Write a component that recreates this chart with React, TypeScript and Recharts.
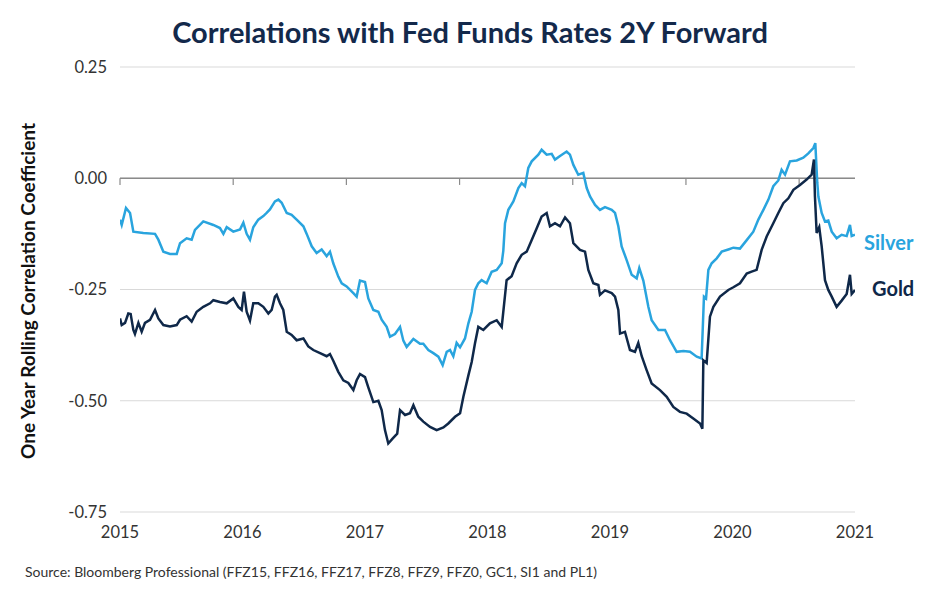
import React from "react";
import {
  LineChart,
  Line,
  XAxis,
  YAxis,
  CartesianGrid,
  ReferenceLine,
  LabelList,
} from "recharts";

const title = "Correlations with Fed Funds Rates 2Y Forward";
const yAxisLabel = "One Year Rolling Correlation Coefficient";
const sourceNote =
  "Source: Bloomberg Professional (FFZ15, FFZ16, FFZ17, FFZ8, FFZ9, FFZ0, GC1, SI1 and PL1)";

const yearTicks = [2015, 2016, 2017, 2018, 2019, 2020, 2021];
const valueTicks = [0.25, 0, -0.25, -0.5, -0.75];
const zeroAxisTicks = [2015, 2015.924, 2016.848, 2017.772, 2018.696, 2019.62, 2020.544];

const silverDates = [
  2015.0, 2015.014, 2015.049, 2015.082, 2015.109, 2015.19, 2015.286, 2015.313, 2015.354, 2015.408,
  2015.463, 2015.49, 2015.544, 2015.585, 2015.612, 2015.68, 2015.762, 2015.816, 2015.844, 2015.871,
  2015.925, 2015.98, 2016.007, 2016.034, 2016.061, 2016.088, 2016.129, 2016.17, 2016.197, 2016.224,
  2016.265, 2016.293, 2016.32, 2016.361, 2016.401, 2016.442, 2016.497, 2016.524, 2016.565, 2016.605,
  2016.646, 2016.687, 2016.714, 2016.741, 2016.782, 2016.81, 2016.85, 2016.905, 2016.932, 2016.959,
  2017.0, 2017.027, 2017.068, 2017.109, 2017.136, 2017.177, 2017.204, 2017.245, 2017.286, 2017.313,
  2017.34, 2017.395, 2017.449, 2017.476, 2017.517, 2017.558, 2017.599, 2017.634, 2017.667, 2017.694,
  2017.721, 2017.748, 2017.776, 2017.816, 2017.844, 2017.871, 2017.898, 2017.925, 2017.952, 2017.993,
  2018.034, 2018.075, 2018.116, 2018.129, 2018.143, 2018.17, 2018.211, 2018.252, 2018.279, 2018.306,
  2018.333, 2018.361, 2018.415, 2018.442, 2018.483, 2018.524, 2018.551, 2018.592, 2018.646, 2018.673,
  2018.701, 2018.741, 2018.782, 2018.81, 2018.837, 2018.878, 2018.918, 2018.959, 2019.014, 2019.041,
  2019.068, 2019.095, 2019.136, 2019.177, 2019.218, 2019.239, 2019.272, 2019.313, 2019.34, 2019.395,
  2019.449, 2019.49, 2019.544, 2019.599, 2019.653, 2019.708, 2019.748, 2019.767, 2019.784, 2019.803,
  2019.83, 2019.871, 2019.912, 2019.966, 2020.007, 2020.061, 2020.116, 2020.17, 2020.211, 2020.252,
  2020.293, 2020.333, 2020.374, 2020.401, 2020.429, 2020.469, 2020.524, 2020.578, 2020.619, 2020.66,
  2020.676, 2020.692, 2020.701, 2020.728, 2020.755, 2020.782, 2020.81, 2020.85, 2020.891, 2020.932,
  2020.959, 2020.973, 2021.0,
];
const silverValues = [
  -0.093, -0.105, -0.067, -0.078, -0.12, -0.123, -0.125, -0.138, -0.165, -0.17,
  -0.17, -0.146, -0.135, -0.138, -0.116, -0.097, -0.105, -0.112, -0.125, -0.11,
  -0.12, -0.115, -0.1, -0.125, -0.138, -0.11, -0.093, -0.085, -0.078, -0.07,
  -0.052, -0.048, -0.055, -0.078, -0.082, -0.093, -0.108, -0.125, -0.153, -0.168,
  -0.16, -0.175, -0.165, -0.191, -0.221, -0.236, -0.243, -0.258, -0.266, -0.23,
  -0.233, -0.27, -0.296, -0.3, -0.318, -0.334, -0.356, -0.35, -0.334, -0.365,
  -0.379, -0.361, -0.372, -0.372, -0.386, -0.393, -0.401, -0.42, -0.39, -0.386,
  -0.4, -0.37, -0.38, -0.36, -0.326, -0.3, -0.251, -0.236, -0.229, -0.236,
  -0.21, -0.206, -0.191, -0.163, -0.101, -0.071, -0.052, -0.022, -0.011, -0.018,
  0.023, 0.038, 0.053, 0.064, 0.053, 0.055, 0.042, 0.05, 0.06, 0.053,
  0.03, 0.008, 0.012, -0.022, -0.041, -0.06, -0.071, -0.065, -0.071, -0.078,
  -0.108, -0.153, -0.184, -0.217, -0.225, -0.202, -0.23, -0.289, -0.319, -0.341,
  -0.341, -0.364, -0.39, -0.388, -0.39, -0.401, -0.405, -0.266, -0.27, -0.206,
  -0.191, -0.18, -0.165, -0.16, -0.156, -0.158, -0.139, -0.12, -0.093, -0.071,
  -0.048, -0.018, -0.005, 0.019, 0.008, 0.038, 0.04, 0.046, 0.056, 0.068,
  0.079, -0.01, -0.041, -0.078, -0.097, -0.095, -0.12, -0.135, -0.127, -0.13,
  -0.105, -0.13, -0.127,
];

const goldDates = [
  2015.0, 2015.014, 2015.041, 2015.068, 2015.087, 2015.109, 2015.122, 2015.15, 2015.177, 2015.204,
  2015.245, 2015.286, 2015.313, 2015.354, 2015.408, 2015.463, 2015.49, 2015.544, 2015.585, 2015.626,
  2015.68, 2015.735, 2015.762, 2015.816, 2015.871, 2015.925, 2015.966, 2015.993, 2016.012, 2016.034,
  2016.061, 2016.088, 2016.129, 2016.17, 2016.211, 2016.238, 2016.265, 2016.279, 2016.306, 2016.333,
  2016.361, 2016.401, 2016.442, 2016.497, 2016.537, 2016.578, 2016.633, 2016.687, 2016.714, 2016.741,
  2016.782, 2016.823, 2016.864, 2016.905, 2016.932, 2016.959, 2017.0, 2017.027, 2017.068, 2017.109,
  2017.136, 2017.163, 2017.19, 2017.225, 2017.263, 2017.286, 2017.327, 2017.367, 2017.395, 2017.435,
  2017.476, 2017.531, 2017.585, 2017.64, 2017.68, 2017.735, 2017.776, 2017.803, 2017.844, 2017.871,
  2017.898, 2017.925, 2017.966, 2018.02, 2018.075, 2018.116, 2018.129, 2018.156, 2018.197, 2018.238,
  2018.279, 2018.32, 2018.361, 2018.401, 2018.442, 2018.483, 2018.51, 2018.551, 2018.592, 2018.633,
  2018.673, 2018.701, 2018.755, 2018.796, 2018.823, 2018.864, 2018.905, 2018.918, 2018.959, 2019.014,
  2019.041, 2019.068, 2019.082, 2019.122, 2019.163, 2019.204, 2019.231, 2019.259, 2019.299, 2019.34,
  2019.408, 2019.463, 2019.517, 2019.571, 2019.626, 2019.68, 2019.735, 2019.754, 2019.762, 2019.789,
  2019.816, 2019.844, 2019.898, 2019.966, 2020.007, 2020.061, 2020.116, 2020.156, 2020.197, 2020.238,
  2020.279, 2020.333, 2020.374, 2020.415, 2020.456, 2020.497, 2020.551, 2020.605, 2020.646, 2020.665,
  2020.673, 2020.687, 2020.708, 2020.728, 2020.755, 2020.782, 2020.81, 2020.85, 2020.891, 2020.932,
  2020.959, 2020.973, 2021.0,
];
const goldValues = [
  -0.315, -0.33, -0.325, -0.304, -0.305, -0.341, -0.35, -0.325, -0.345, -0.325,
  -0.318, -0.296, -0.315, -0.33, -0.333, -0.33, -0.318, -0.31, -0.322, -0.3,
  -0.289, -0.281, -0.274, -0.278, -0.281, -0.27, -0.289, -0.296, -0.255, -0.3,
  -0.32, -0.281, -0.281, -0.289, -0.304, -0.296, -0.266, -0.262, -0.281, -0.296,
  -0.345, -0.352, -0.364, -0.36, -0.378, -0.386, -0.393, -0.4, -0.395, -0.41,
  -0.435, -0.454, -0.46, -0.476, -0.454, -0.44, -0.447, -0.47, -0.503, -0.5,
  -0.521, -0.566, -0.596, -0.585, -0.574, -0.521, -0.532, -0.528, -0.51, -0.536,
  -0.547, -0.559, -0.566, -0.56, -0.551, -0.536, -0.528, -0.491, -0.443, -0.413,
  -0.371, -0.334, -0.341, -0.326, -0.319, -0.334, -0.3, -0.229, -0.22, -0.191,
  -0.172, -0.165, -0.139, -0.113, -0.086, -0.078, -0.108, -0.101, -0.108, -0.088,
  -0.101, -0.146, -0.161, -0.165, -0.206, -0.236, -0.24, -0.262, -0.252, -0.258,
  -0.266, -0.296, -0.349, -0.345, -0.386, -0.39, -0.37, -0.4, -0.431, -0.461,
  -0.476, -0.491, -0.514, -0.525, -0.529, -0.54, -0.551, -0.563, -0.409, -0.415,
  -0.311, -0.289, -0.266, -0.251, -0.245, -0.236, -0.214, -0.21, -0.206, -0.161,
  -0.131, -0.101, -0.078, -0.056, -0.045, -0.026, -0.015, -0.003, 0.008, 0.042,
  -0.041, -0.123, -0.11, -0.153, -0.229, -0.251, -0.266, -0.289, -0.275, -0.26,
  -0.217, -0.26, -0.251,
];

const SILVER = "#29a4de";
const GOLD = "#0f2849";
const FONT = "Lato, 'Open Sans', sans-serif";

const silverData = silverDates.map((t, i) => ({ t, v: silverValues[i] }));
const goldData = goldDates.map((t, i) => ({ t, v: goldValues[i] }));

const endLabel = (name: string, color: string, dx: number, dy: number, lastIndex: number) =>
  (props: any) => {
    if (props.index !== lastIndex) return null;
    return (
      <text
        x={props.x + dx}
        y={props.y + dy}
        fill={color}
        fontFamily={FONT}
        fontWeight={700}
        fontSize={20}
        dominantBaseline="central"
      >
        {name}
      </text>
    );
  };

export default function App() {
  return (
    <div style={{ position: "absolute", left: 0, top: 0, width: 940, height: 600, background: "#fff" }}>
      <LineChart
        width={940}
        height={600}
        margin={{ top: 67, right: 85, bottom: 0, left: 0 }}
      >
        <text
          x={470}
          y={43}
          textAnchor="middle"
          fill="#13294b"
          fontFamily={FONT}
          fontWeight={700}
          fontSize={29}
        >
          {title}
        </text>
        <text
          x={0}
          y={0}
          transform="translate(35, 291) rotate(-90)"
          textAnchor="middle"
          fill="#111"
          fontFamily={FONT}
          fontWeight={700}
          fontSize={19}
        >
          {yAxisLabel}
        </text>
        <text x={25} y={577} fill="#333" fontFamily={FONT} fontSize={14}>
          {sourceNote}
        </text>
        <CartesianGrid horizontal vertical={false} stroke="#d9d9d9" strokeWidth={1} />
        <XAxis
          type="number"
          dataKey="t"
          domain={[2015, 2021]}
          ticks={yearTicks}
          allowDataOverflow
          axisLine={false}
          tickLine={false}
          tickSize={0}
          tickMargin={14}
          height={88}
          tick={{ fill: "#333", fontSize: 16.5, fontFamily: FONT }}
        />
        <YAxis
          type="number"
          domain={[-0.75, 0.25]}
          ticks={valueTicks}
          width={120}
          axisLine={false}
          tickLine={false}
          tickSize={0}
          tickMargin={13}
          tickFormatter={(v: number) => v.toFixed(2)}
          tick={{ fill: "#333", fontSize: 16.5, fontFamily: FONT }}
        />
        <ReferenceLine y={0} stroke="#8a8a8a" strokeWidth={1.5} />
        {zeroAxisTicks.map((t) => (
          <ReferenceLine
            key={t}
            segment={[
              { x: t, y: 0 },
              { x: t, y: -0.015 },
            ]}
            stroke="#8a8a8a"
            strokeWidth={1.2}
          />
        ))}
        <Line
          data={silverData}
          dataKey="v"
          type="linear"
          stroke={SILVER}
          strokeWidth={2.5}
          dot={false}
          isAnimationActive={false}
        >
          <LabelList
            dataKey="v"
            content={endLabel("Silver", SILVER, 9, 7, silverData.length - 1)}
          />
        </Line>
        <Line
          data={goldData}
          dataKey="v"
          type="linear"
          stroke={GOLD}
          strokeWidth={2.5}
          dot={false}
          isAnimationActive={false}
        >
          <LabelList
            dataKey="v"
            content={endLabel("Gold", GOLD, 17, -2, goldData.length - 1)}
          />
        </Line>
      </LineChart>
    </div>
  );
}
